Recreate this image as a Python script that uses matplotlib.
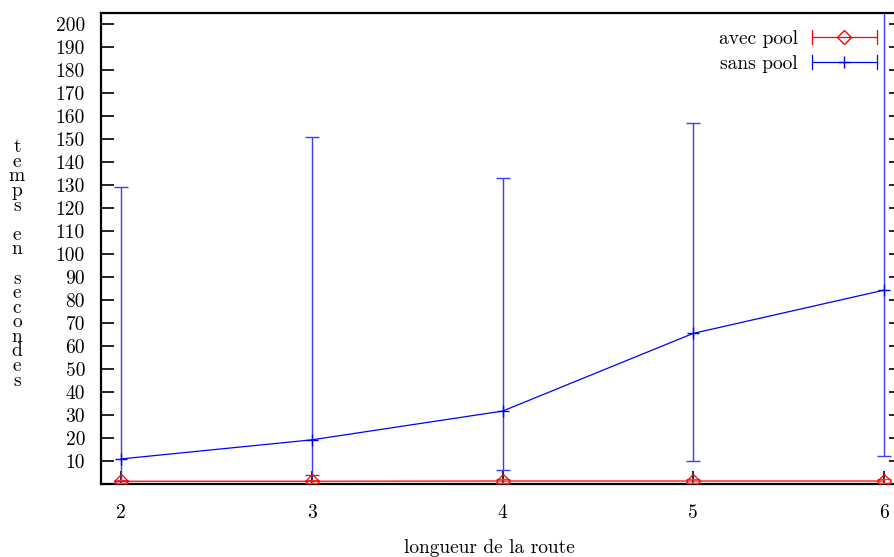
import matplotlib
matplotlib.use("Agg")
import matplotlib.pyplot as plt
from matplotlib.lines import Line2D
from matplotlib.legend_handler import HandlerBase

# ---- data ----
route_len = [2, 3, 4, 5, 6]
sans_pool = [10.9, 19.2, 31.7, 65.5, 84.3]
sans_low = [1.5, 3.9, 6.1, 9.9, 12.3]
sans_high = [129.2, 151.0, 133.2, 156.8, 260.0]
avec_pool = [1.2, 1.2, 1.3, 1.3, 1.3]
avec_low = [0.6, 0.6, 0.6, 0.6, 0.6]
avec_high = [1.8, 1.8, 2.0, 2.0, 2.0]
yticks = list(range(10, 201, 10))
xticks = [2, 3, 4, 5, 6]
ylabel_text = "temps en secondes"
xlabel_text = "longueur de la route"
labels = ["avec pool", "sans pool"]

plt.rcParams['font.family'] = ['cmr10', 'DejaVu Serif']
plt.rcParams['axes.formatter.use_mathtext'] = True

W, H = 895, 557
fig = plt.figure(figsize=(W / 100, H / 100), dpi=100)
left, right, top, bottom = 101, 902, 13, 484
ax = fig.add_axes([left / W, 1 - bottom / H, (right - left) / W, (bottom - top) / H])

FS = 14

def yerr(v, lo, hi):
    return [[a - b for a, b in zip(v, lo)], [c - a for a, c in zip(v, hi)]]

ax.errorbar(route_len, avec_pool, yerr=yerr(avec_pool, avec_low, avec_high),
            color='#ff0000', ecolor='#ff3030', lw=0.9, elinewidth=0.9, capsize=5,
            capthick=0.9, marker='D', ms=7, mfc='none', mec='#ff0000', mew=0.9,
            zorder=3)
ax.errorbar(route_len, sans_pool, yerr=yerr(sans_pool, sans_low, sans_high),
            color='#0000ff', ecolor='#3c3cff', lw=0.9, elinewidth=1.0, capsize=5,
            capthick=1.0, marker='+', ms=8, mew=1.0, zorder=2)

ax.set_xlim(1.895, 1.895 + (right - left) / 190.75)
ax.set_ylim(0, 204.8)
ax.set_xticks(xticks)
ax.set_xticklabels([str(t) for t in xticks])
ax.set_yticks(yticks)
ax.set_yticklabels([str(t) for t in yticks])
ax.tick_params(axis='both', direction='in', length=9.4, width=1.2, labelsize=FS,
               top=False, right=True, color='black')
ax.tick_params(axis='y', pad=11.5)
ax.tick_params(axis='x', pad=14.4)
for s in ax.spines.values():
    s.set_linewidth(1.6)
    s.set_color('black')

# vertical stacked ylabel
stacked = "\n".join(list(ylabel_text))
fig.text(17 / W, 1 - 264 / H, stacked, ha='center', va='center', fontsize=FS,
         linespacing=0.76)
fig.text(489 / W, 1 - 548 / H, xlabel_text, ha='center', va='center', fontsize=FS)


class GnuHandler(HandlerBase):
    def create_artists(self, legend, orig_handle, xdescent, ydescent, width,
                       height, fontsize, trans):
        c = orig_handle.get_color()
        y = height / 2 - ydescent
        x0, x1 = -xdescent, width - xdescent
        h = 5
        arts = [
            Line2D([x0, x1], [y, y], color=c, lw=0.9),
            Line2D([x0, x0], [y - h, y + h], color=c, lw=0.9),
            Line2D([x1, x1], [y - h, y + h], color=c, lw=0.9),
            Line2D([(x0 + x1) / 2], [y], marker=orig_handle.get_marker(),
                   ms=orig_handle.get_markersize(), mfc='none', mec=c, mew=1.0,
                   lw=0),
        ]
        for a in arts:
            a.set_transform(trans)
        return arts


h1 = Line2D([], [], color='#ff0000', marker='D', ms=7)
h2 = Line2D([], [], color='#0000ff', marker='+', ms=9)
leg = ax.legend([h1, h2], labels, loc='upper right', frameon=False,
                markerfirst=False, fontsize=FS, handlelength=3.35,
                handletextpad=0.72, labelspacing=0.38,
                bbox_to_anchor=(877 / W, 1 - 30 / H), bbox_transform=fig.transFigure,
                borderaxespad=0, borderpad=0,
                handler_map={h1: GnuHandler(), h2: GnuHandler()})

fig.savefig("out.png", dpi=100)
